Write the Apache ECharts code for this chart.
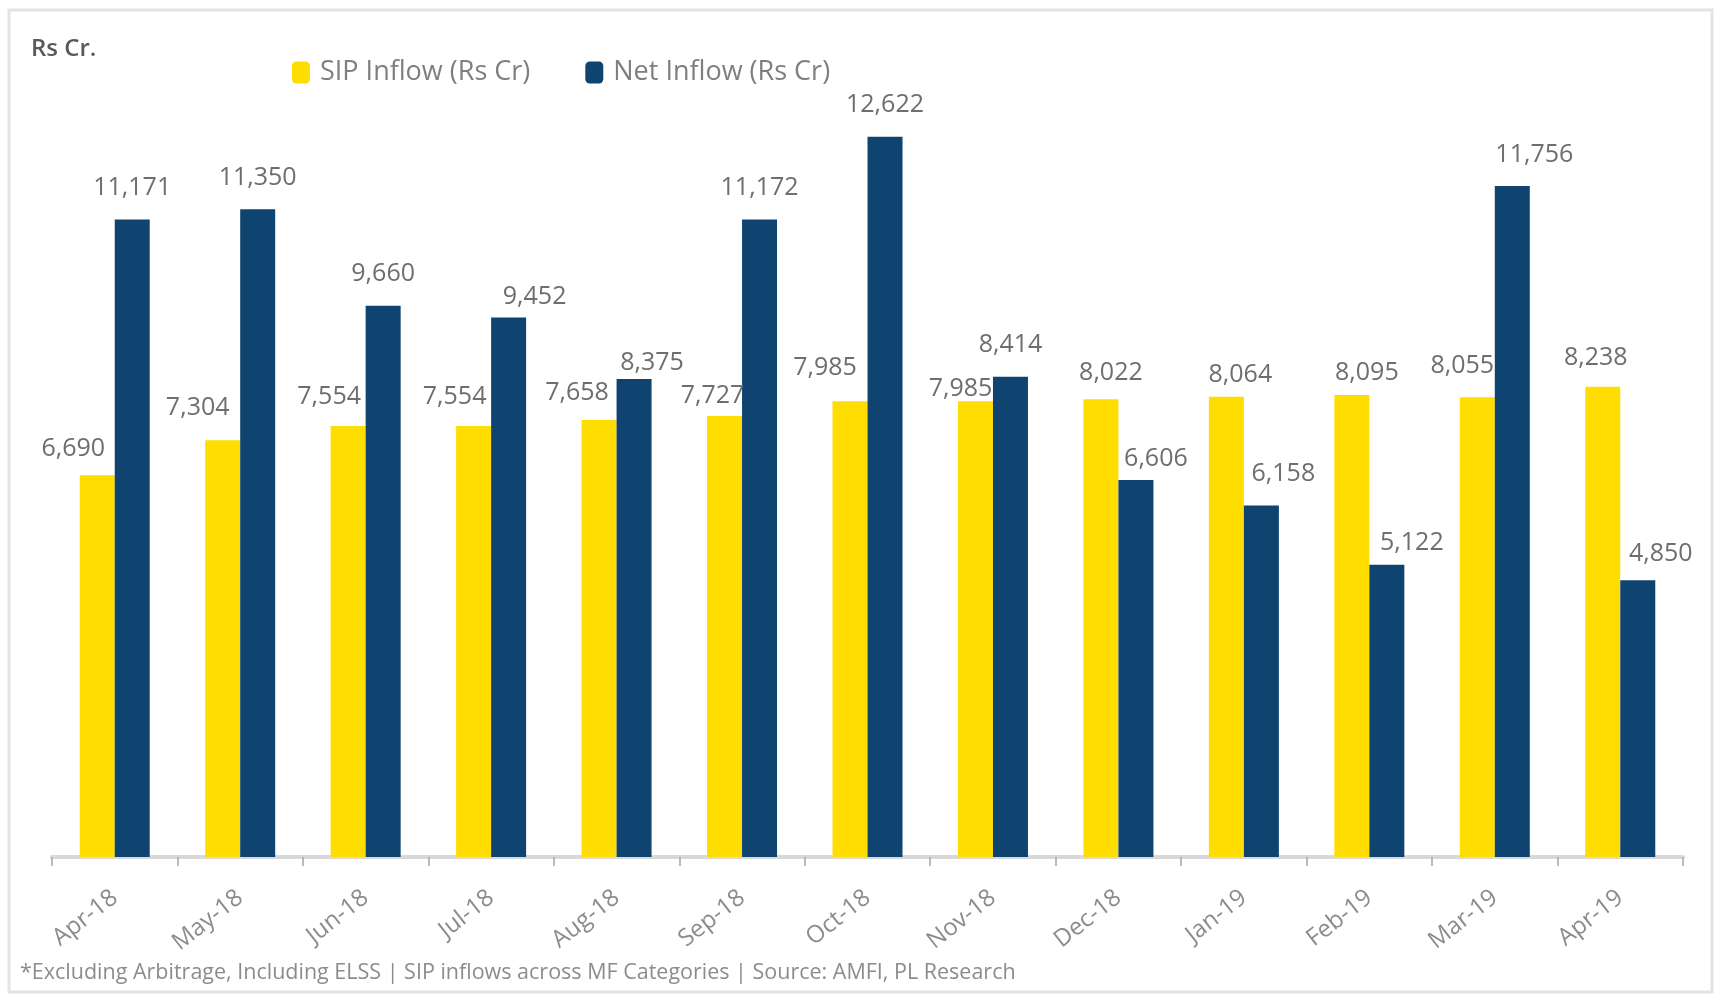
<!DOCTYPE html>
<html>
<head>
<meta charset="utf-8">
<script src="https://cdn.jsdelivr.net/npm/echarts@6/dist/echarts.min.js"></script>
<style>html,body{margin:0;padding:0;background:#fff;}#c{width:1719px;height:994px;}</style>
</head>
<body>
<div id="c"></div>
<script>
const categories = ['Apr-18','May-18','Jun-18','Jul-18','Aug-18','Sep-18','Oct-18','Nov-18','Dec-18','Jan-19','Feb-19','Mar-19','Apr-19'];
const sipInflow = [6690,7304,7554,7554,7658,7727,7985,7985,8022,8064,8095,8055,8238];
const netInflow = [11171,11350,9660,9452,8375,11172,12622,8414,6606,6158,5122,11756,4850];
const seriesNames = ['SIP Inflow (Rs Cr)','Net Inflow (Rs Cr)'];

// label nudges (styling only)
const sipLabelDx = [-24,-25,-19,-19,-22,-12,-25,-15,10,14,15,-15,-7];
const sipLabelDy = [5,-1,2,2,4,11,-2,19,5,10,9,0,3];
const netLabelDx = [0,0,0,26,18,0,0,0,20,22,25,22,23];
const netLabelDy = [0,0,0,11,15,0,0,0,10,0,10,0,5];

const fmt = v => v.toLocaleString('en-US');
const labelFont = {fontFamily:'Open Sans', fontSize:25, color:'#6e6e6e'};

function build(vals, dx, dy){
  return vals.map((v,i)=>({value:v, label:{offset:[dx[i],dy[i]]}}));
}

const chart = echarts.init(document.getElementById('c'), null, {renderer:'canvas'});
chart.setOption({
  backgroundColor:'#ffffff',
  animation:false,
  graphic:[
    {type:'rect', shape:{x:9,y:10,width:1703,height:982}, style:{fill:'none', stroke:'#e3e3e3', lineWidth:3}, z:-1},
    {type:'text', left:31, top:37, style:{text:'Rs Cr.', font:'600 24px "Open Sans"', fill:'#595959'}},
    {type:'text', left:20, top:962, style:{text:'*Excluding Arbitrage, Including ELSS | SIP inflows across MF Categories | Source: AMFI, PL Research', font:'21.5px "Open Sans"', fill:'#8c8c8c'}}
  ],
  legend:{
    left:287, top:54, itemWidth:18, itemHeight:22, itemGap:55,
    textStyle:{fontFamily:'Open Sans', fontSize:27, color:'#7f7f7f', padding:[0,0,0,5]},
    data:seriesNames
  },
  grid:{left:52, right:36, top:58, bottom:137, containLabel:false},
  xAxis:{
    type:'category', data:categories,
    axisLine:{lineStyle:{color:'#d9d9d9', width:4}},
    axisTick:{show:true, length:9, lineStyle:{color:'#a6a6a6', width:1.5}},
    axisLabel:{rotate:38, margin:38, fontFamily:'Open Sans', fontSize:24, color:'#8c8c8c'}
  },
  yAxis:{type:'value', min:0, max:14000, show:false, splitLine:{show:false}},
  series:[
    {name:seriesNames[0], type:'bar', barWidth:35, barGap:'0%',
     itemStyle:{color:'#FFDD00'},
     label:Object.assign({show:true, position:'top', distance:19, formatter:p=>fmt(p.value)}, labelFont),
     data:build(sipInflow, sipLabelDx, sipLabelDy)},
    {name:seriesNames[1], type:'bar', barWidth:35, barGap:'0%',
     itemStyle:{color:'#0F4470'},
     label:Object.assign({show:true, position:'top', distance:19, formatter:p=>fmt(p.value)}, labelFont),
     data:build(netInflow, netLabelDx, netLabelDy)}
  ]
});
</script>
</body>
</html>
